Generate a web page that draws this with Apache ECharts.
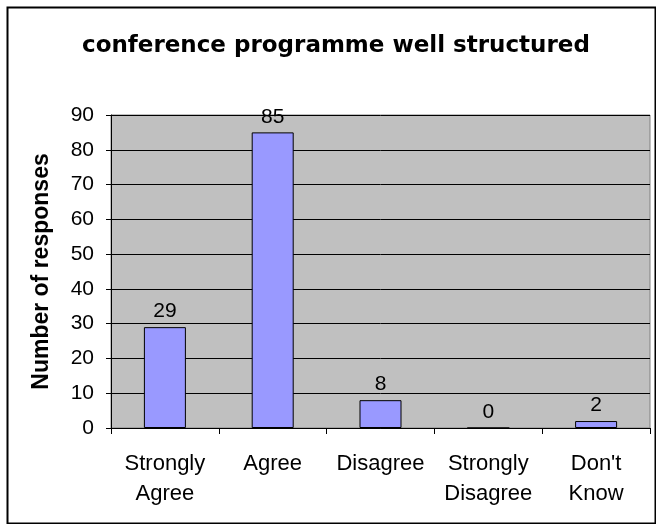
<!DOCTYPE html>
<html><head><meta charset="utf-8">
<script src="https://cdn.jsdelivr.net/npm/echarts@6/dist/echarts.min.js"></script>
<style>html,body{margin:0;padding:0;background:#fff}#c{width:656px;height:524px}</style>
</head><body><div id="c"></div>
<script>
const titleText = "conference programme well structured";
const yAxisName = "Number of responses";
const categories = ["Strongly\nAgree", "Agree", "Disagree", "Strongly\nDisagree", "Don't\nKnow"];
const responses = [29, 85, 8, 0, 2];
const yMin = 0, yMax = 90, yStep = 10;

const chart = echarts.init(document.getElementById('c'), null, {renderer: 'canvas'});
const font = "Arial, 'Liberation Sans', sans-serif";
chart.setOption({
  backgroundColor: '#fff',
  animation: false,
  title: {
    text: titleText, left: 77, top: 30,
    textStyle: {fontFamily: "'DejaVu Sans', sans-serif", fontWeight: 'bold', fontSize: 23, color: '#000'}
  },
  graphic: [{
    type: 'rect', left: 5, top: 5, silent: true,
    shape: {width: 648, height: 516},
    style: {fill: 'none', stroke: '#000', lineWidth: 2}
  }],
  grid: {left: 111, right: 6, top: 115, bottom: 96, show: true, backgroundColor: '#C0C0C0', borderColor: '#808080', borderWidth: 1},
  xAxis: {
    type: 'category', data: categories,
    axisLine: {show: true, lineStyle: {color: '#000', width: 1}},
    axisTick: {show: true, alignWithLabel: false, length: 6, lineStyle: {color: '#000'}},
    axisLabel: {fontFamily: font, fontSize: 22, color: '#000', lineHeight: 30, margin: 21, interval: 0}
  },
  yAxis: {
    type: 'value', min: yMin, max: yMax, interval: yStep,
    name: yAxisName, nameLocation: 'middle', nameGap: 58, nameRotate: 90,
    nameTextStyle: {fontFamily: font, fontWeight: 'bold', fontSize: 23, color: '#000'},
    axisLine: {show: true, lineStyle: {color: '#000', width: 1}},
    axisTick: {show: true, length: 5, lineStyle: {color: '#000'}},
    axisLabel: {fontFamily: font, fontSize: 21, color: '#000', margin: 17},
    splitLine: {show: true, lineStyle: {color: '#000', width: 1}}
  },
  series: [{
    type: 'bar', data: responses, barWidth: 42,
    itemStyle: {color: '#9999FF', borderColor: '#000', borderWidth: 1},
    label: {show: true, position: 'top', distance: 5, fontFamily: font, fontSize: 21, color: '#000'}
  }]
});
</script></body></html>
